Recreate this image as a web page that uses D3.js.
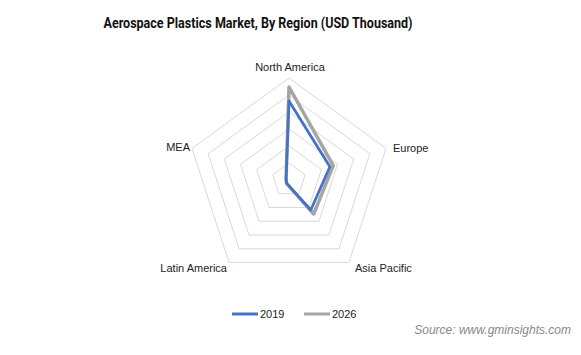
<!DOCTYPE html>
<html><head><meta charset="utf-8">
<script src="https://cdn.jsdelivr.net/npm/d3@7"></script>
<style>body{margin:0;background:#fff}svg{display:block}</style>
</head><body><svg id="c" width="581" height="355"></svg>
<script>
const categories = ["North America","Europe","Asia Pacific","Latin America","MEA"];
const values2019 = [465, 253, 218, 24, 18];
const values2026 = [547, 274, 247, 24, 18];
const gridTicks = [100,200,300,400,500,600];
const seriesNames = ["2019","2026"];
const colors = ["#4472C4","#A5A5A5"];

const svg = d3.select("#c");
const cx = 289, cy = 180, R = 102;
const r = d3.scaleLinear().domain([0,600]).range([0,R]);
const ang = d3.scalePoint().domain(categories).range([0, 2*Math.PI*4/5]);
const pt = (c,v)=>[cx + r(v)*Math.sin(ang(c)), cy - r(v)*Math.cos(ang(c))];

svg.append("text").attr("x",258).attr("y",28).attr("text-anchor","middle")
  .attr("font-family","'Liberation Sans Narrow','Arial Narrow',Roboto,sans-serif").attr("font-weight","bold")
  .attr("font-size",15).attr("fill","#111").attr("textLength",309).attr("lengthAdjust","spacingAndGlyphs")
  .text("Aerospace Plastics Market, By Region (USD Thousand)");

const line = d3.line().curve(d3.curveLinearClosed);
svg.append("g").selectAll("path").data(gridTicks).join("path")
  .attr("d", t=>line(categories.map(c=>pt(c,t))))
  .attr("fill","none").attr("stroke","#d9d9d9").attr("stroke-width",1);

const labelPos = {"North America":[290,71,"middle"],"Europe":[393,152,"start"],"Asia Pacific":[355,272,"start"],"Latin America":[227,272,"end"],"MEA":[190,151,"end"]};
svg.append("g").selectAll("text").data(categories).join("text")
  .attr("x",c=>labelPos[c][0]).attr("y",c=>labelPos[c][1]).attr("text-anchor",c=>labelPos[c][2])
  .attr("font-family","'Liberation Sans',Arial,sans-serif").attr("font-size",11).attr("fill","#222").text(c=>c);

const series = [values2026, values2019];
const sc = [colors[1], colors[0]];
svg.append("g").selectAll("path").data(series).join("path")
  .attr("d", vals=>line(categories.map((c,i)=>pt(c,vals[i]))))
  .attr("fill","none").attr("stroke",(d,i)=>sc[i]).attr("stroke-width",(d,i)=>i==0?3.5:2.75).attr("stroke-linejoin","round");

const lg = svg.append("g");
const lx = [232,304];
seriesNames.forEach((n,i)=>{
  lg.append("line").attr("x1",lx[i]).attr("x2",lx[i]+26).attr("y1",314).attr("y2",314).attr("stroke",colors[i]).attr("stroke-width",3);
  lg.append("text").attr("x",lx[i]+28).attr("y",318).attr("font-family","'Liberation Sans',Arial,sans-serif").attr("font-size",11).attr("fill","#222").text(n);
});
svg.append("text").attr("x",571).attr("y",334).attr("text-anchor","end")
  .attr("font-family","'Liberation Sans',Arial,sans-serif").attr("font-style","italic").attr("font-size",12).attr("fill","#888")
  .text("Source: www.gminsights.com");
</script></body></html>
